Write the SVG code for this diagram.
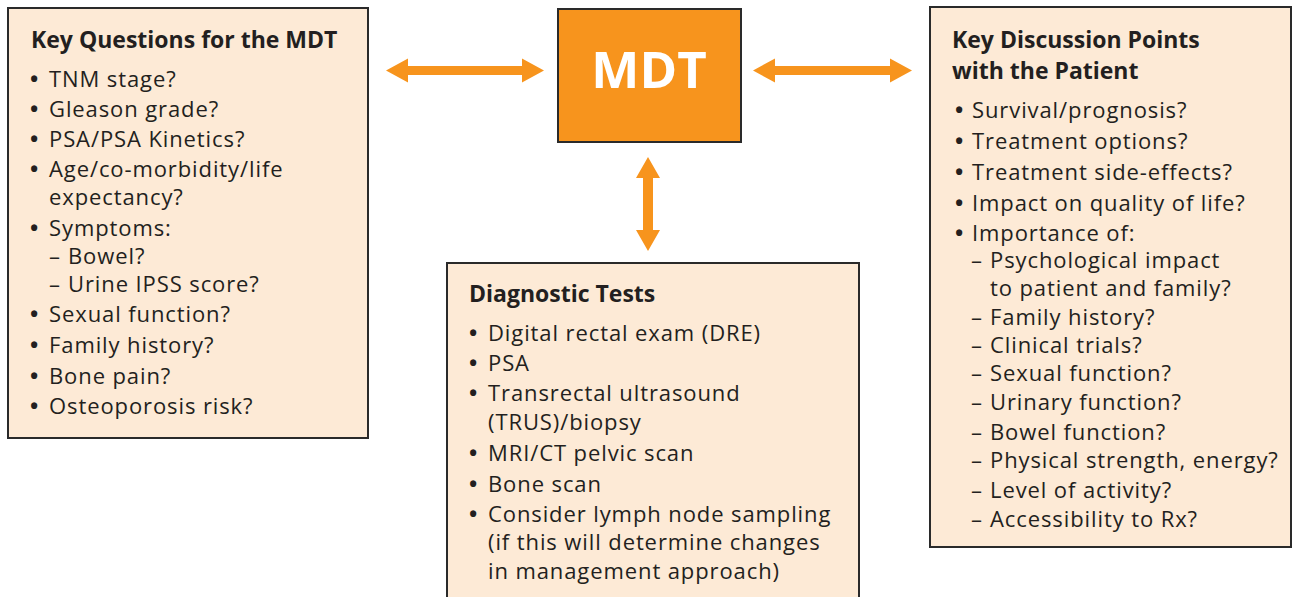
<svg xmlns="http://www.w3.org/2000/svg" width="1293" height="597" viewBox="0 0 1293 597">
<style>
.box{fill:#FDEAD6;stroke:#2a2a2a;stroke-width:2}
.mdt{fill:#F7941D;stroke:#2a2a2a;stroke-width:2}
.arrow{fill:#F7941D}
text{font-family:"Open Sans","Noto Sans","Liberation Sans",sans-serif;fill:#231F20;font-size:22px;letter-spacing:0.9px}
.h{font-weight:bold;font-size:23px;letter-spacing:0}
.b{font-weight:bold;letter-spacing:0}
.big{font-weight:bold;font-size:51px;fill:#ffffff;letter-spacing:0}
</style>
<rect width="1293" height="597" fill="#ffffff"/>
<g id="connectors">
<polygon class="arrow" points="386,70.5 408,58.5 408,66 522,66 522,58.5 544,70.5 522,82.5 522,75 408,75 408,82.5"/>
<polygon class="arrow" points="753,70.5 775,58.5 775,66 890,66 890,58.5 912,70.5 890,82.5 890,75 775,75 775,82.5"/>
<polygon class="arrow" points="648,157 660,178 653,178 653,230 660,230 648,251 636,230 643,230 643,178 636,178"/>
</g>
<g id="node-mdt">
<rect class="mdt" x="558" y="9" width="183" height="133"/>
<text class="big" x="649" y="88" text-anchor="middle">MDT</text>
</g>
<g id="node-key-questions">
<rect class="box" x="8" y="8" width="360" height="430"/>
<text class="h" x="31" y="48">Key Questions for the MDT</text>
<text class="b" x="30" y="87">•</text><text x="49" y="87">TNM stage?</text>
<text class="b" x="30" y="117">•</text><text x="49" y="117">Gleason grade?</text>
<text class="b" x="30" y="147">•</text><text x="49" y="147">PSA/PSA Kinetics?</text>
<text class="b" x="30" y="177">•</text><text x="49" y="177">Age/co-morbidity/life</text>
<text x="49" y="205">expectancy?</text>
<text class="b" x="30" y="236">•</text><text x="49" y="236">Symptoms:</text>
<text x="49" y="264">–</text><text x="68" y="264">Bowel?</text>
<text x="49" y="292">–</text><text x="68" y="292">Urine IPSS score?</text>
<text class="b" x="30" y="322">•</text><text x="49" y="322">Sexual function?</text>
<text class="b" x="30" y="353">•</text><text x="49" y="353">Family history?</text>
<text class="b" x="30" y="384">•</text><text x="49" y="384">Bone pain?</text>
<text class="b" x="30" y="414">•</text><text x="49" y="414">Osteoporosis risk?</text>
</g>
<g id="node-discussion">
<rect class="box" x="930" y="7" width="361" height="540"/>
<text class="h" x="952" y="48">Key Discussion Points</text>
<text class="h" x="952" y="79">with the Patient</text>
<text class="b" x="955" y="118">•</text><text x="972" y="118">Survival/prognosis?</text>
<text class="b" x="955" y="149">•</text><text x="972" y="149">Treatment options?</text>
<text class="b" x="955" y="180">•</text><text x="972" y="180">Treatment side-effects?</text>
<text class="b" x="955" y="211">•</text><text x="972" y="211">Impact on quality of life?</text>
<text class="b" x="955" y="241">•</text><text x="972" y="241">Importance of:</text>
<text x="971" y="268">–</text><text x="990" y="268">Psychological impact</text>
<text x="990" y="296">to patient and family?</text>
<text x="971" y="325">–</text><text x="990" y="325">Family history?</text>
<text x="971" y="353">–</text><text x="990" y="353">Clinical trials?</text>
<text x="971" y="381">–</text><text x="990" y="381">Sexual function?</text>
<text x="971" y="410">–</text><text x="990" y="410">Urinary function?</text>
<text x="971" y="440">–</text><text x="990" y="440">Bowel function?</text>
<text x="971" y="468">–</text><text x="990" y="468">Physical strength, energy?</text>
<text x="971" y="498">–</text><text x="990" y="498">Level of activity?</text>
<text x="971" y="527">–</text><text x="990" y="527">Accessibility to Rx?</text>
</g>
<g id="node-diagnostic">
<rect class="box" x="447" y="263" width="412" height="345"/>
<text class="h" x="469" y="302">Diagnostic Tests</text>
<text class="b" x="469" y="341">•</text><text x="488" y="341">Digital rectal exam (DRE)</text>
<text class="b" x="469" y="371">•</text><text x="488" y="371">PSA</text>
<text class="b" x="469" y="401">•</text><text x="488" y="401">Transrectal ultrasound</text>
<text x="488" y="430">(TRUS)/biopsy</text>
<text class="b" x="469" y="461">•</text><text x="488" y="461">MRI/CT pelvic scan</text>
<text class="b" x="469" y="492">•</text><text x="488" y="492">Bone scan</text>
<text class="b" x="469" y="522">•</text><text x="488" y="522">Consider lymph node sampling</text>
<text x="488" y="550">(if this will determine changes</text>
<text x="488" y="579">in management approach)</text>
</g>
</svg>
